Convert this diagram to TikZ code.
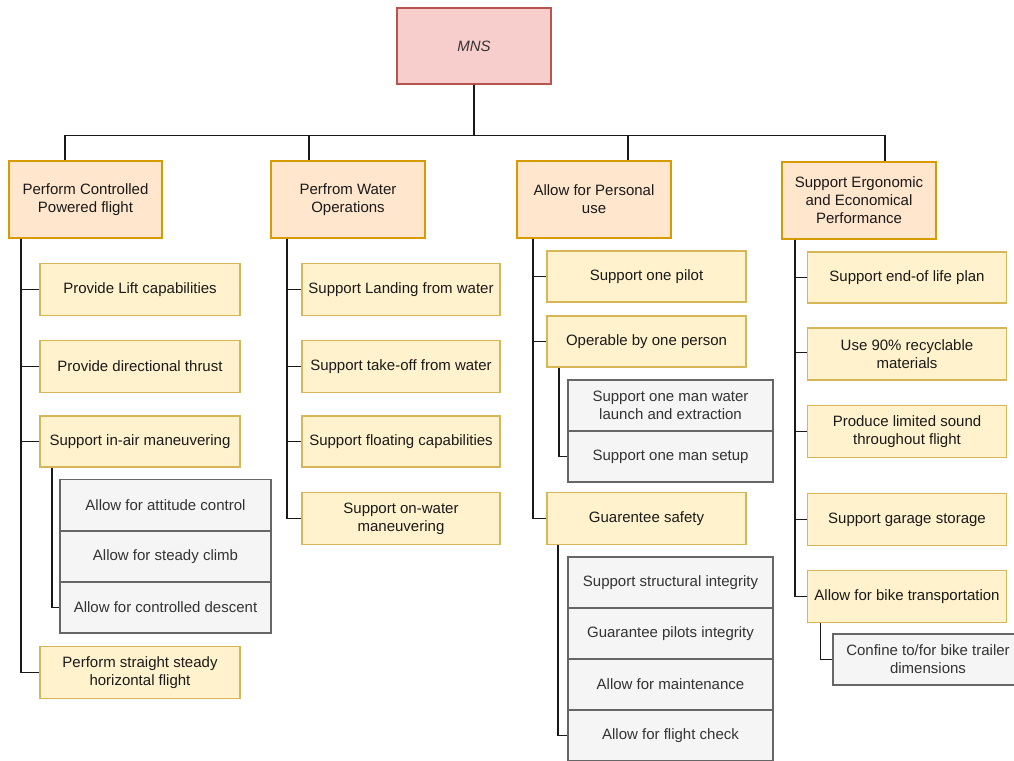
\documentclass[tikz,border=0pt]{standalone}
\usepackage{fontspec}
\setmainfont{Liberation Sans}
\definecolor{mnsfill}{HTML}{F8CECC}
\definecolor{mnsdraw}{HTML}{B85450}
\definecolor{topfill}{HTML}{FFE6CC}
\definecolor{topdraw}{HTML}{D79B00}
\definecolor{yfill}{HTML}{FFF2CC}
\definecolor{ydraw}{HTML}{D6B656}
\definecolor{gfill}{HTML}{F5F5F5}
\definecolor{gdraw}{HTML}{666666}
\definecolor{gtext}{HTML}{333333}
\definecolor{ink}{HTML}{1A1A1A}
\begin{document}
\begin{tikzpicture}[x=1pt,y=-1pt,
  base/.style={draw, line width=1.2pt, align=center, inner sep=0pt,
    font=\fontsize{15}{18}\selectfont, text=ink},
  mnsbox/.style={base, fill=mnsfill, draw=mnsdraw, minimum width=154pt, minimum height=76pt, text=gtext},
  topbox/.style={base, fill=topfill, draw=topdraw, minimum width=154pt, minimum height=77pt},
  ybox/.style={base, fill=yfill, draw=ydraw, minimum width=200pt, minimum height=52pt},
  gbox/.style={base, fill=gfill, draw=gdraw, minimum height=51pt, text=gtext},
  conn/.style={draw=black!90, line width=1.5pt}]
\useasboundingbox (0,0) rectangle (1014,760);
\clip (0,0) rectangle (1014,760);

% root
\node[mnsbox] (mns) at (474,46) {\itshape MNS};
\coordinate (bus) at (0,135.5);

% top level
\node[topbox, minimum width=153pt] (A) at (85.5,199.5) {Perform Controlled\\Powered flight};
\node[topbox] (B) at (348,199.5) {Perfrom Water\\Operations};
\node[topbox] (C) at (594,199.5) {Allow for Personal\\use};
\node[topbox] (D) at (859,200.5) {Support Ergonomic\\and Economical\\Performance};

% column A
\node[ybox] (A1) at (140,289.5) {Provide Lift capabilities};
\node[ybox] (A2) at (140,366.5) {Provide directional thrust};
\node[ybox, minimum height=51pt] (A3) at (140,441.5) {Support in-air maneuvering};
\node[gbox, minimum width=211pt] (G1) at (165.5,505) {Allow for attitude control};
\node[gbox, minimum width=211pt] (G2) at (165.5,556.5) {Allow for steady climb};
\node[gbox, minimum width=211pt] (G3) at (165.5,607.5) {Allow for controlled descent};
\node[ybox] (A4) at (140,672.5) {Perform straight steady\\horizontal flight};

% column B
\node[ybox, minimum width=198pt] (B1) at (401,289.5) {Support Landing from water};
\node[ybox, minimum width=198pt] (B2) at (401,366.5) {Support take-off from water};
\node[ybox, minimum width=198pt, minimum height=51pt] (B3) at (401,441.5) {Support floating capabilities};
\node[ybox, minimum width=198pt] (B4) at (401,518.5) {Support on-water\\maneuvering};

% column C
\node[ybox, minimum width=199pt, minimum height=51pt] (C1) at (646.5,276.5) {Support one pilot};
\node[ybox, minimum width=199pt, minimum height=51pt] (C2) at (646.5,341.5) {Operable by one person};
\node[gbox, minimum width=205pt] (CG1) at (670.5,405.5) {Support one man water\\launch and extraction};
\node[gbox, minimum width=205pt] (CG2) at (670.5,456.5) {Support one man setup};
\node[ybox, minimum width=199pt] (C3) at (646.5,518.5) {Guarentee safety};
\node[gbox, minimum width=205pt] (CS1) at (670.5,582.5) {Support structural integrity};
\node[gbox, minimum width=205pt] (CS2) at (670.5,633.5) {Guarantee pilots integrity};
\node[gbox, minimum width=205pt] (CS3) at (670.5,684.5) {Allow for maintenance};
\node[gbox, minimum width=205pt] (CS4) at (670.5,735.5) {Allow for flight check};

% column D
\node[ybox, minimum width=199pt, minimum height=51pt] (D1) at (907,277.5) {Support end-of life plan};
\node[ybox, minimum width=199pt] (D2) at (907,354) {Use 90\% recyclable\\materials};
\node[ybox, minimum width=199pt] (D3) at (907,431.5) {Produce limited sound\\throughout flight};
\node[ybox, minimum width=199pt] (D4) at (907,519.5) {Support garage storage};
\node[ybox, minimum width=199pt] (D5) at (907,596.5) {Allow for bike transportation};
\node[gbox, minimum width=190pt] (DG1) at (928,659.5) {Confine to/for bike trailer\\dimensions};

% root to top level
\draw[conn] (mns.south) -- (mns.south |- bus) -| ([xshift=56.5pt]A.north west);
\draw[conn] (mns.south) -- (mns.south |- bus) -| ([xshift=38.5pt]B.north west);
\draw[conn] (mns.south) -- (mns.south |- bus) -| ([xshift=111.5pt]C.north west);
\draw[conn] (mns.south) -- (mns.south |- bus) -| ([xshift=103.5pt]D.north west);

% A children
\foreach \n in {A1,A2,A3,A4}
  \draw[conn] ([xshift=12.5pt]A.south west) |- (\n.west);
\draw[conn] ([xshift=12.5pt]A3.south west) |- (G3.west);

% B children
\foreach \n in {B1,B2,B3,B4}
  \draw[conn] ([xshift=16.5pt]B.south west) |- (\n.west);

% C children
\foreach \n in {C1,C2,C3}
  \draw[conn] ([xshift=16.5pt]C.south west) |- (\n.west);
\draw[conn] ([xshift=12.5pt]C2.south west) |- (CG2.west);
\draw[conn] ([xshift=11.5pt]C3.south west) |- (CS4.west);

% D children
\draw[conn] ([xshift=13.5pt]D.south west) |- (D1.west);
\draw[conn] ([xshift=13.5pt]D.south west) |- ([yshift=1.5pt]D2.west);
\draw[conn] ([xshift=13.5pt]D.south west) |- (D3.west);
\draw[conn] ([xshift=13.5pt]D.south west) |- (D4.west);
\draw[conn] ([xshift=13.5pt]D.south west) |- (D5.west);
\draw[conn] ([xshift=13.5pt]D5.south west) |- (DG1.west);
\end{tikzpicture}
\end{document}
